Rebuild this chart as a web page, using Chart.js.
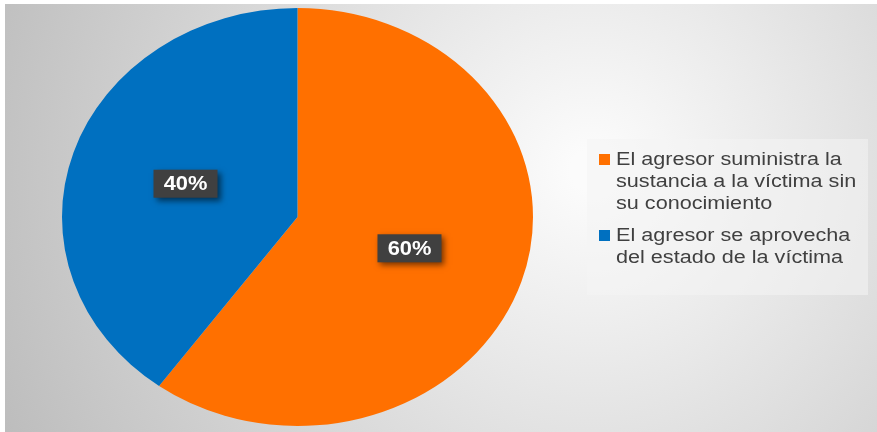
<!DOCTYPE html>
<html>
<head>
<meta charset="utf-8">
<script src="https://cdn.jsdelivr.net/npm/chart.js@4"></script>
<style>
  html, body { margin: 0; padding: 0; background: #fff; }
  #wrap { position: relative; width: 877px; height: 432px; }
  #legend {
    position: absolute; left: 587px; top: 139px; width: 281px; height: 156px;
    background: rgba(244, 244, 244, 0.55);
    font-family: "Liberation Sans", Arial, sans-serif; font-size: 17.5px; color: #404040;
    box-sizing: border-box; padding: 9px 0 0 12px;
  }
  .item { display: flex; align-items: flex-start; margin-bottom: 10px; line-height: 22px; }
  .box { width: 11px; height: 11px; margin: 6px 6px 0 0; flex: none; }
  .txt { width: 210px; transform: scaleX(1.235); transform-origin: left top; }
</style>
</head>
<body>
<div id="wrap">
  <canvas id="myChart" width="877" height="432"></canvas>
  <div id="legend"></div>
</div>
<script>
// chart data
var labels = ['El agresor suministra la sustancia a la víctima sin su conocimiento', 'El agresor se aprovecha del estado de la víctima'];
var values = [60, 40];
var colors = ['#ff7000', '#0070c0'];

// stretch factor: the pie in the picture is wider than it is tall
var stretchX = 235.5 / 209;

// background gradient behind everything
var bgPlugin = {
    id: 'bg',
    beforeDraw: function(chart) {
        var c = chart.ctx;
        var g = c.createRadialGradient(590, 170, 20, 590, 170, 640);
        g.addColorStop(0, '#fbfbfb');
        g.addColorStop(1, '#bdbdbd');
        c.save();
        c.fillStyle = g;
        c.fillRect(5, 4, 872, 428);
        c.restore();
    }
};

// stretch the pie horizontally and draw value boxes
var pieLabels = {
    id: 'pieLabels',
    beforeDatasetsDraw: function(chart) {
        var c = chart.ctx;
        var arc = chart.getDatasetMeta(0).data[0];
        c.save();
        c.translate(arc.x, 0);
        c.scale(stretchX, 1);
        c.translate(-arc.x, 0);
    },
    afterDatasetsDraw: function(chart) {
        var c = chart.ctx;
        c.restore();
        var meta = chart.getDatasetMeta(0);
        meta.data.forEach(function(arc, i) {
            var p = arc.tooltipPosition();
            var x = arc.x + (p.x - arc.x) * stretchX;
            var y = p.y - 1;
            var w = 64, h = 28;
            c.save();
            c.shadowColor = 'rgba(0,0,0,0.55)';
            c.shadowBlur = 6;
            c.shadowOffsetX = 3;
            c.shadowOffsetY = 3;
            c.fillStyle = '#404040';
            c.fillRect(x - w / 2, y - h / 2, w, h);
            c.restore();
            c.save();
            c.translate(x, y + 1);
            c.scale(1.12, 1);
            c.fillStyle = '#ffffff';
            c.font = 'bold 19.5px "Liberation Sans", Arial, sans-serif';
            c.textAlign = 'center';
            c.textBaseline = 'middle';
            c.fillText(values[i] + '%', 0, 0);
            c.restore();
        });
    }
};

var ctx = document.getElementById('myChart').getContext('2d');
var myChart = new Chart(ctx, {
    type: 'pie',
    data: {
        labels: labels,
        datasets: [{
            data: values,
            backgroundColor: colors,
            borderWidth: 0
        }]
    },
    options: {
        responsive: false,
        animation: false,
        layout: {
            padding: { left: 88.5, right: 370.5, top: 8, bottom: 6 }
        },
        plugins: {
            legend: { display: false },
            tooltip: { enabled: false }
        }
    },
    plugins: [bgPlugin, pieLabels]
});

// html legend so the long labels can wrap
var legend = document.getElementById('legend');
labels.forEach(function(text, i) {
    var item = document.createElement('div');
    item.className = 'item';
    item.innerHTML = '<div class="box" style="background:' + colors[i] + '"></div><div class="txt">' + text + '</div>';
    legend.appendChild(item);
});
</script>
</body>
</html>
